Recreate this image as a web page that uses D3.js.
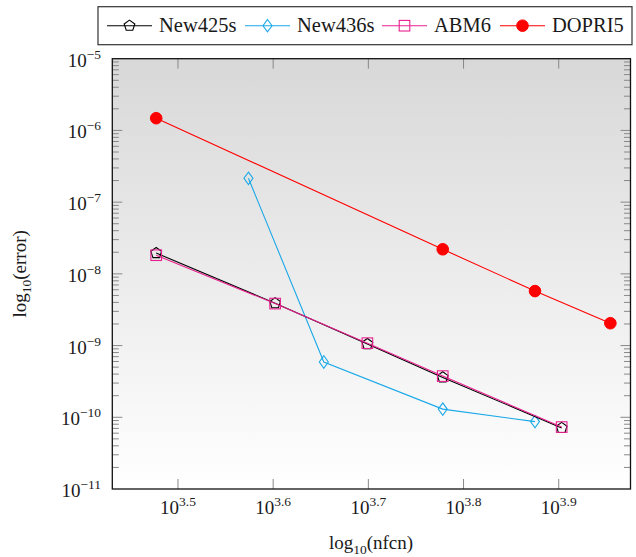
<!DOCTYPE html>
<html><head><meta charset="utf-8">
<script src="https://cdn.jsdelivr.net/npm/d3@7"></script>
<style>body{margin:0;background:#fff}svg{display:block}</style>
</head><body><svg id="c" width="636" height="557" font-family="'Liberation Serif', 'Times New Roman', serif"></svg>
<script>
// ---- data ----
const seriesNames = ["New425s","New436s","ABM6","DOPRI5"];
const new425sX = [3000,4000,5000,6000,8000];
const new425sY = [1.95e-8,3.9e-9,1.05e-9,3.6e-10,7.1e-11];
const new436sX = [3750,4500,6000,7500];
const new436sY = [2.15e-7,5.9e-10,1.3e-10,8.7e-11];
const abm6X = [3000,4000,5000,6000,8000];
const abm6Y = [1.82e-8,3.85e-9,1.08e-9,3.75e-10,7.3e-11];
const dopri5X = [3000,6000,7500,9000];
const dopri5Y = [1.48e-6,2.2e-8,5.75e-9,2.05e-9];
const xTickExps = ["3.5","3.6","3.7","3.8","3.9"];
const yTickExps = [-5,-6,-7,-8,-9,-10,-11];

const colors = {New425s:"#000000",New436s:"#1aa8e8",ABM6:"#e8208f",DOPRI5:"#ff0000"};
const markers = {New425s:"pentagon",New436s:"diamond",ABM6:"square",DOPRI5:"circle"};

const L=112.3,R=630.5,T=58.7,B=489;
const svg=d3.select("#c");
const x=d3.scaleLog().domain([Math.pow(10,3.4310),Math.pow(10,3.9754)]).range([L,R]);
const y=d3.scaleLog().domain([1e-11,1e-5]).range([B,T]);
const txtCol="#1a1a1a";

// background gradient
const defs=svg.append("defs");
const g=defs.append("linearGradient").attr("id","bg").attr("x1",0).attr("y1",0).attr("x2",0).attr("y2",1);
g.append("stop").attr("offset","0%").attr("stop-color","#d8d8d8");
g.append("stop").attr("offset","100%").attr("stop-color","#ffffff");
svg.append("rect").attr("x",L).attr("y",T).attr("width",R-L).attr("height",B-T).attr("fill","url(#bg)");

// y ticks (major + minor) on both sides
const tickCol="#888";
for(let e=-11;e<=-5;e++){
  for(let m=1;m<=9;m++){
    const v=m*Math.pow(10,e);
    if(v>1e-5*1.0001) continue;
    const yy=y(v);
    const len=(m===1)?10:6.5;
    if(m===1 && (e===-11||e===-5)) continue;
    svg.append("line").attr("x1",L).attr("x2",L+len).attr("y1",yy).attr("y2",yy).attr("stroke",tickCol).attr("stroke-width",1);
    svg.append("line").attr("x1",R).attr("x2",R-len).attr("y1",yy).attr("y2",yy).attr("stroke",tickCol).attr("stroke-width",1);
  }
}
// x ticks
xTickExps.forEach(s=>{
  const xx=x(Math.pow(10,+s));
  svg.append("line").attr("x1",xx).attr("x2",xx).attr("y1",B).attr("y2",B-10).attr("stroke",tickCol).attr("stroke-width",1);
  svg.append("line").attr("x1",xx).attr("x2",xx).attr("y1",T).attr("y2",T+10).attr("stroke",tickCol).attr("stroke-width",1);
  const t=svg.append("text").attr("x",xx).attr("y",B+25).attr("text-anchor","middle").attr("fill",txtCol).style("font-size","19px");
  t.append("tspan").text("10");
  t.append("tspan").attr("dy",-8).style("font-size","13.5px").text(s);
});
// y tick labels
yTickExps.forEach(e=>{
  const yy=y(Math.pow(10,e));
  const t=svg.append("text").attr("x",101).attr("y",yy+8).attr("text-anchor","end").attr("fill",txtCol).style("font-size","19px");
  t.append("tspan").text("10");
  t.append("tspan").attr("dy",-8).style("font-size","13.5px").text("\u2212"+Math.abs(e));
});

// frame
svg.append("rect").attr("x",L).attr("y",T).attr("width",R-L).attr("height",B-T).attr("fill","none").attr("stroke","#111").attr("stroke-width",1.3);

// axis titles
const xt=svg.append("text").attr("x",371).attr("y",549).attr("text-anchor","middle").attr("fill",txtCol).style("font-size","19px");
xt.append("tspan").text("log");
xt.append("tspan").attr("dy",5).style("font-size","13.5px").text("10");
xt.append("tspan").attr("dy",-5).text("(nfcn)");
const yt=svg.append("text").attr("transform",`translate(26,${(T+B)/2}) rotate(-90)`).attr("text-anchor","middle").attr("fill",txtCol).style("font-size","19px");
yt.append("tspan").text("log");
yt.append("tspan").attr("dy",5).style("font-size","13.5px").text("10");
yt.append("tspan").attr("dy",-5).text("(error)");

function drawMarker(sel,type,col,cx,cy){
  if(type==="circle"){
    sel.append("circle").attr("cx",cx).attr("cy",cy).attr("r",5.8).attr("fill",col).attr("stroke",col);
  } else if(type==="square"){
    sel.append("rect").attr("x",cx-5.3).attr("y",cy-5.3).attr("width",10.6).attr("height",10.6).attr("fill","none").attr("stroke",col).attr("stroke-width",1.1);
  } else if(type==="diamond"){
    sel.append("path").attr("d",`M${cx},${cy-6.2}L${cx+4.5},${cy}L${cx},${cy+6.2}L${cx-4.5},${cy}Z`).attr("fill","none").attr("stroke",col).attr("stroke-width",1.1);
  } else if(type==="pentagon"){
    const r=5.6;
    const pts=d3.range(5).map(i=>{const a=-Math.PI/2+i*2*Math.PI/5;return [cx+r*Math.cos(a),cy+r*Math.sin(a)];});
    sel.append("path").attr("d","M"+pts.map(p=>p.join(",")).join("L")+"Z").attr("fill","none").attr("stroke",col).attr("stroke-width",1.1);
  }
}

const data=[
  {name:"New425s",xs:new425sX,ys:new425sY},
  {name:"New436s",xs:new436sX,ys:new436sY},
  {name:"ABM6",xs:abm6X,ys:abm6Y},
  {name:"DOPRI5",xs:dopri5X,ys:dopri5Y}
];
const line=d3.line().x(d=>x(d[0])).y(d=>y(d[1]));
["DOPRI5","New436s","New425s","ABM6"].forEach(n=>{
  const s=data.find(d=>d.name===n);
  const pts=s.xs.map((v,i)=>[v,s.ys[i]]);
  const gg=svg.append("g");
  gg.append("path").attr("d",line(pts)).attr("fill","none").attr("stroke",colors[n]).attr("stroke-width",1.1);
  pts.forEach(p=>drawMarker(gg,markers[n],colors[n],x(p[0]),y(p[1])));
});

// legend
const lg=svg.append("g");
lg.append("rect").attr("x",98).attr("y",6.7).attr("width",534).attr("height",38).attr("fill","#fff").attr("stroke","#333").attr("stroke-width",1.2);
const legX=[107,245,382,500];
seriesNames.forEach((n,i)=>{
  const x0=legX[i], cy=25.7;
  lg.append("line").attr("x1",x0).attr("x2",x0+45).attr("y1",cy).attr("y2",cy).attr("stroke",colors[n]).attr("stroke-width",1.1);
  drawMarker(lg,markers[n],colors[n],x0+22.5,cy);
  lg.append("text").attr("x",x0+52).attr("y",cy+6.5).attr("fill",txtCol).style("font-size","20.5px").text(n);
});
</script></body></html>
